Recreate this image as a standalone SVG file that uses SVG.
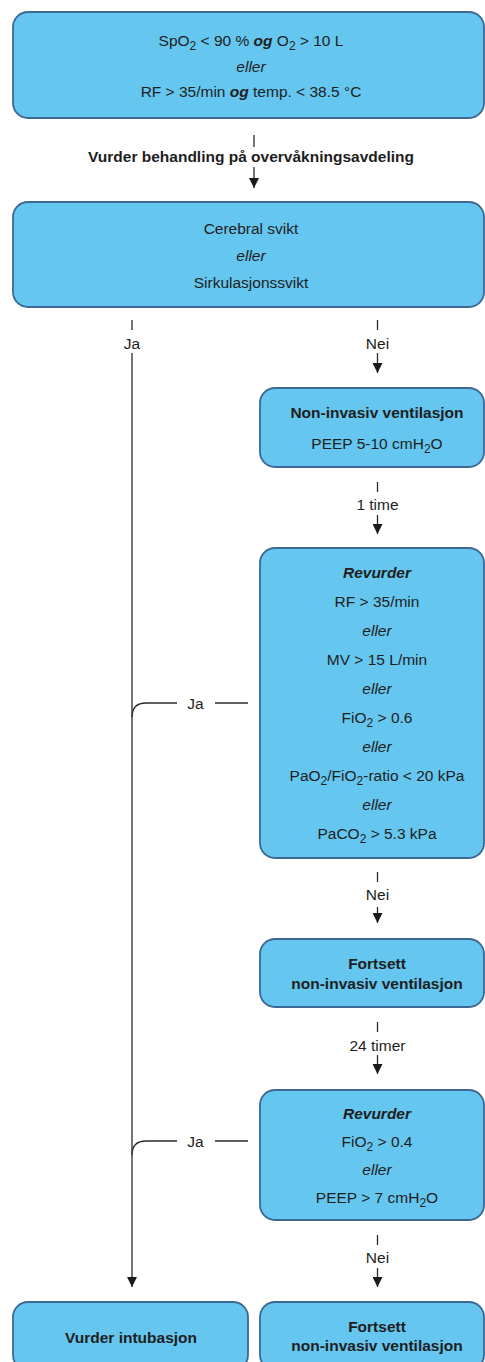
<svg xmlns="http://www.w3.org/2000/svg" width="485" height="1362" viewBox="0 0 485 1362">
<style>
.box{fill:#65c6ef;stroke:#3d6893;stroke-width:1.8}
.t{font-family:"Liberation Sans",Arial,sans-serif;font-size:15.5px;fill:#1e1e1e;text-anchor:middle}
.b{font-weight:bold}
.i{font-style:italic}
.sub{font-size:12px}
.c{stroke:#2a2a2a;stroke-width:1.3;fill:none}
.a{marker-end:url(#arr)}
</style>
<defs>
<marker id="arr" markerUnits="userSpaceOnUse" markerWidth="10" markerHeight="10" refX="10" refY="5" orient="auto">
<path d="M0,0 L10,5 L0,10 z" fill="#1a1a1a"/>
</marker>
</defs>
<rect width="485" height="1362" fill="#ffffff"/>

<g id="connectors">
<path class="c" d="M254 135 V147"/>
<path class="c a" d="M254 167 V188"/>
<text class="t b" x="251" y="162">Vurder behandling på overvåkningsavdeling</text>

<path class="c" d="M132 320 V330"/>
<text class="t" x="132" y="348.5">Ja</text>
<path class="c a" d="M132 353 V1287"/>

<path class="c" d="M377.5 320 V330"/>
<text class="t" x="377.5" y="348.5">Nei</text>
<path class="c a" d="M377.5 353 V373"/>

<path class="c" d="M377.5 482 V492"/>
<text class="t" x="377.5" y="509.5">1 time</text>
<path class="c a" d="M377.5 515 V534"/>

<path class="c" d="M248 703 H215"/>
<text class="t" x="195.5" y="708.5">Ja</text>
<path class="c" d="M177 703 H146 Q132 703 132 717"/>

<path class="c" d="M377.5 872 V882"/>
<text class="t" x="377.5" y="899.5">Nei</text>
<path class="c a" d="M377.5 907 V923"/>

<path class="c" d="M377.5 1022 V1032"/>
<text class="t" x="377.5" y="1050.5">24 timer</text>
<path class="c a" d="M377.5 1055 V1074"/>

<path class="c" d="M248 1141 H215"/>
<text class="t" x="195.5" y="1146.5">Ja</text>
<path class="c" d="M177 1141 H146 Q132 1141 132 1155"/>

<path class="c" d="M377.5 1235 V1245"/>
<text class="t" x="377.5" y="1262.5">Nei</text>
<path class="c a" d="M377.5 1268 V1287"/>
</g>

<g id="n1">
<rect class="box" x="13" y="12" width="471" height="106" rx="15"/>
<text class="t" x="251" y="46">SpO<tspan class="sub" dy="4">2</tspan><tspan dy="-4"> &lt; 90 % </tspan><tspan class="b i">og</tspan> O<tspan class="sub" dy="4">2</tspan><tspan dy="-4"> &gt; 10 L</tspan></text>
<text class="t i" x="251" y="72">eller</text>
<text class="t" x="251" y="97">RF &gt; 35/min <tspan class="b i">og</tspan> temp. &lt; 38.5 °C</text>
</g>

<g id="n2">
<rect class="box" x="13" y="202" width="471" height="105" rx="15"/>
<text class="t" x="251" y="234">Cerebral svikt</text>
<text class="t i" x="251" y="261">eller</text>
<text class="t" x="251" y="288">Sirkulasjonssvikt</text>
</g>

<g id="n3">
<rect class="box" x="260" y="388" width="224" height="79" rx="15"/>
<text class="t b" x="377" y="417.5">Non-invasiv ventilasjon</text>
<text class="t" x="377" y="448.5">PEEP 5-10 cmH<tspan class="sub" dy="4">2</tspan><tspan dy="-4">O</tspan></text>
</g>

<g id="n4">
<rect class="box" x="260" y="548" width="224" height="310" rx="15"/>
<text class="t b i" x="377" y="577.5">Revurder</text>
<text class="t" x="377" y="606.5">RF &gt; 35/min</text>
<text class="t i" x="377" y="635.5">eller</text>
<text class="t" x="377" y="664.5">MV &gt; 15 L/min</text>
<text class="t i" x="377" y="693.5">eller</text>
<text class="t" x="377" y="722.5">FiO<tspan class="sub" dy="4">2</tspan><tspan dy="-4"> &gt; 0.6</tspan></text>
<text class="t i" x="377" y="751.5">eller</text>
<text class="t" x="377" y="780.5">PaO<tspan class="sub" dy="4">2</tspan><tspan dy="-4">/FiO</tspan><tspan class="sub" dy="4">2</tspan><tspan dy="-4">-ratio &lt; 20 kPa</tspan></text>
<text class="t i" x="377" y="809.5">eller</text>
<text class="t" x="377" y="838.5">PaCO<tspan class="sub" dy="4">2</tspan><tspan dy="-4"> &gt; 5.3 kPa</tspan></text>
</g>

<g id="n5">
<rect class="box" x="260" y="939" width="224" height="68" rx="15"/>
<text class="t b" x="377" y="968.5">Fortsett</text>
<text class="t b" x="377" y="988.5">non-invasiv ventilasjon</text>
</g>

<g id="n6">
<rect class="box" x="260" y="1090" width="224" height="130" rx="15"/>
<text class="t b i" x="377" y="1118.5">Revurder</text>
<text class="t" x="377" y="1146.5">FiO<tspan class="sub" dy="4">2</tspan><tspan dy="-4"> &gt; 0.4</tspan></text>
<text class="t i" x="377" y="1174.5">eller</text>
<text class="t" x="377" y="1202.5">PEEP &gt; 7 cmH<tspan class="sub" dy="4">2</tspan><tspan dy="-4">O</tspan></text>
</g>

<g id="n7">
<rect class="box" x="13" y="1302" width="235" height="68" rx="15"/>
<text class="t b" x="131" y="1342.5">Vurder intubasjon</text>
</g>

<g id="n8">
<rect class="box" x="260" y="1302" width="224" height="68" rx="15"/>
<text class="t b" x="377" y="1331.5">Fortsett</text>
<text class="t b" x="377" y="1350.5">non-invasiv ventilasjon</text>
</g>
</svg>
